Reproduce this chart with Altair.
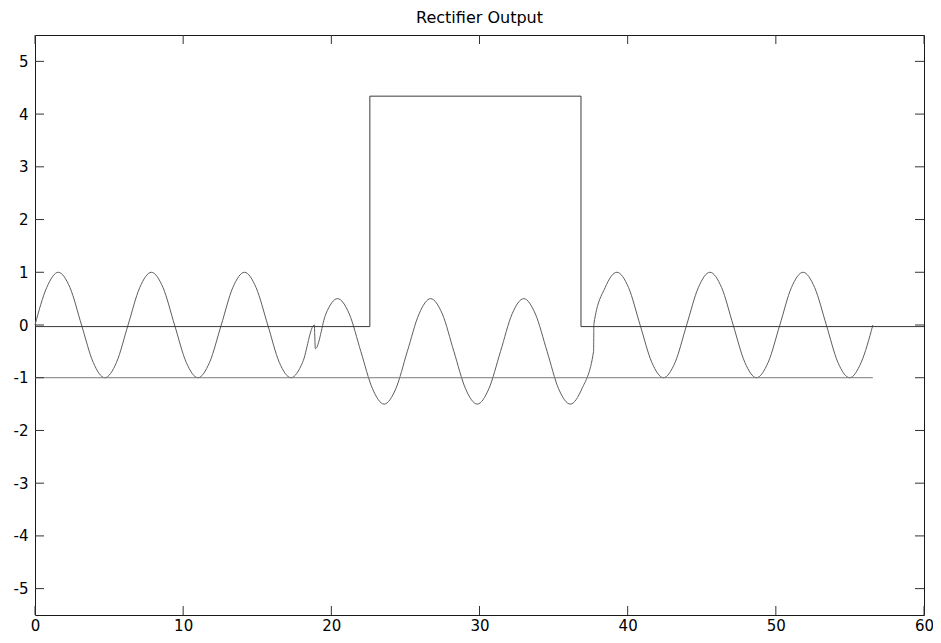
import altair as alt
import pandas as pd

TITLE = "Rectifier Output"

# Signal samples (eighth-period spacing, plus the two glitch points)
sine_x = [0.00, 0.79, 1.57, 2.36, 3.14, 3.93, 4.71, 5.50, 6.28, 7.07, 7.85, 8.64,
          9.42, 10.21, 11.00, 11.78, 12.57, 13.35, 14.14, 14.92, 15.71, 16.49, 17.28, 18.06,
          18.85, 18.92,
          19.63, 20.42, 21.21, 21.99, 22.78, 23.56, 24.35, 25.13, 25.92, 26.70, 27.49, 28.27,
          29.06, 29.85, 30.63, 31.42, 32.20, 32.99, 33.77, 34.56, 35.34, 36.13, 36.91, 37.70,
          37.72,
          38.48, 39.27, 40.06, 40.84, 41.63, 42.41, 43.20, 43.98, 44.77, 45.55, 46.34, 47.12,
          47.91, 48.69, 49.48, 50.27, 51.05, 51.84, 52.62, 53.41, 54.19, 54.98, 55.76, 56.55]
sine_y = [0.00, 0.71, 1.00, 0.71, 0.00, -0.71, -1.00, -0.71, 0.00, 0.71, 1.00, 0.71,
          0.00, -0.71, -1.00, -0.71, 0.00, 0.71, 1.00, 0.71, 0.00, -0.71, -1.00, -0.71,
          0.00, -0.45,
          0.21, 0.50, 0.21, -0.50, -1.21, -1.50, -1.21, -0.50, 0.21, 0.50, 0.21, -0.50,
          -1.21, -1.50, -1.21, -0.50, 0.21, 0.50, 0.21, -0.50, -1.21, -1.50, -1.21, -0.50,
          0.02,
          0.71, 1.00, 0.71, 0.00, -0.71, -1.00, -0.71, 0.00, 0.71, 1.00, 0.71, 0.00,
          -0.71, -1.00, -0.71, 0.00, 0.71, 1.00, 0.71, 0.00, -0.71, -1.00, -0.71, 0.00]

# Rectifier output (step) line
step_x = [0.0, 22.6, 22.6, 36.85, 36.85, 60.0]
step_y = [-0.03, -0.03, 4.34, 4.34, -0.03, -0.03]

# Reference level line
base_x = [0.0, 56.55]
base_y = [-1.0, -1.0]

x_ticks = [0, 10, 20, 30, 40, 50, 60]
y_ticks = [-5, -4, -3, -2, -1, 0, 1, 2, 3, 4, 5]

W, H = 889, 580
FONT = "DejaVu Sans"
TICK_LEN = 9

xs = alt.Scale(domain=[0, 60], nice=False, zero=False)
ys = alt.Scale(domain=[-5.5, 5.5], nice=False, zero=False)

x_axis = alt.Axis(values=x_ticks, ticks=False, domain=False, grid=False,
                  title=None, labelFont=FONT, labelFontSize=15, labelColor="black",
                  labelPadding=3, labelFlush=False, labelOverlap=False)
y_axis = alt.Axis(values=y_ticks, ticks=False, domain=False, grid=False,
                  title=None, labelFont=FONT, labelFontSize=15, labelColor="black",
                  labelPadding=7, labelOverlap=False,
                  labelExpr="replace(datum.label, '\u2212', '-')")

sine_df = pd.DataFrame({"x": sine_x, "y": sine_y})
step_df = pd.DataFrame({"x": step_x, "y": step_y, "i": list(range(len(step_x)))})
base_df = pd.DataFrame({"x": base_x, "y": base_y})
xt_df = pd.DataFrame({"x": x_ticks})
yt_df = pd.DataFrame({"y": y_ticks})

X = alt.X("x:Q", scale=xs, axis=x_axis)
Y = alt.Y("y:Q", scale=ys, axis=y_axis)

sine = alt.Chart(sine_df).mark_line(color="#5e5e5e", strokeWidth=1, interpolate="monotone").encode(
    x=X, y=Y)
base = alt.Chart(base_df).mark_line(color="#7a7a7a", strokeWidth=1).encode(x=X, y=Y)
step = alt.Chart(step_df).mark_line(color="#3a3a3a", strokeWidth=1).encode(
    x=X, y=Y, order=alt.Order("i:Q"))

tick_color = "#333333"
bottom_ticks = alt.Chart(xt_df).mark_rule(color=tick_color, strokeWidth=1).encode(
    x=X, y=alt.value(H), y2=alt.value(H - TICK_LEN))
top_ticks = alt.Chart(xt_df).mark_rule(color=tick_color, strokeWidth=1).encode(
    x=X, y=alt.value(0), y2=alt.value(TICK_LEN))
left_ticks = alt.Chart(yt_df).mark_rule(color=tick_color, strokeWidth=1).encode(
    y=Y, x=alt.value(0), x2=alt.value(TICK_LEN))
right_ticks = alt.Chart(yt_df).mark_rule(color=tick_color, strokeWidth=1).encode(
    y=Y, x=alt.value(W), x2=alt.value(W - TICK_LEN))

chart = alt.layer(
    sine, base, step, bottom_ticks, top_ticks, left_ticks, right_ticks
).properties(
    width=W, height=H,
    title=alt.Title(TITLE, font=FONT, fontSize=16, fontWeight="normal", color="black",
                    anchor="middle", offset=9),
    padding={"left": 27, "top": 27, "right": 9, "bottom": 20},
    autosize=alt.AutoSizeParams(type="none"),
    background="white",
).configure_view(stroke="#1a1a1a", strokeWidth=1)

chart.save("out.html", embed_options={"renderer": "svg", "actions": False})
